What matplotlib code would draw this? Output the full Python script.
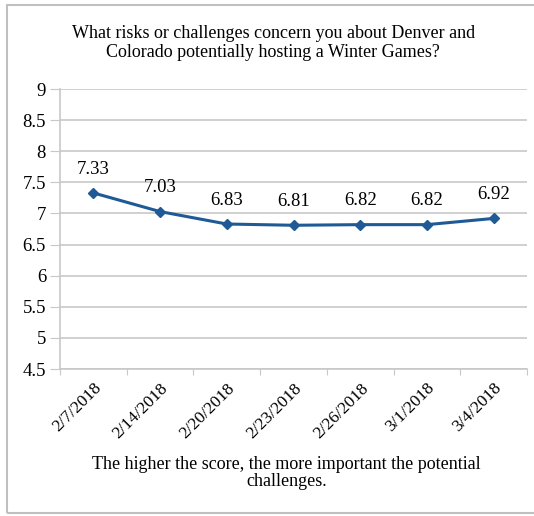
import matplotlib.pyplot as plt
from matplotlib.patches import Rectangle

dates = ['2/7/2018', '2/14/2018', '2/20/2018', '2/23/2018', '2/26/2018', '3/1/2018', '3/4/2018']
scores = [7.33, 7.03, 6.83, 6.81, 6.82, 6.82, 6.92]
yticks = [4.5, 5, 5.5, 6, 6.5, 7, 7.5, 8, 8.5, 9]

plt.rcParams['font.family'] = ['Liberation Serif', 'DejaVu Serif']
grid_col = '#c8c8c8'
line_col = '#1f5a96'

fig = plt.figure(figsize=(5.34, 5.16), dpi=100)
ax = fig.add_axes([60 / 534, 1 - 369 / 516, 467 / 534, 280 / 516])

x = list(range(len(dates)))
ax.plot(x, scores, color=line_col, lw=2.2, marker='D', ms=5, zorder=3)
for xi, v in zip(x, scores):
    ax.annotate('%.2f' % v, (xi, v), xytext=(0, 11), textcoords='offset points',
                ha='center', va='bottom', fontsize=13.5)

ax.set_xlim(-0.5, len(dates) - 0.5)
ax.set_ylim(4.5, 9)
ax.set_yticks(yticks)
ax.set_yticklabels(['%g' % t for t in yticks], fontsize=13.5)
ax.grid(axis='y', color=grid_col, lw=1.2)
ax.set_axisbelow(True)

ax.set_xticks([i - 0.5 for i in range(len(dates) + 1)])
ax.set_xticklabels([])
ax.set_xticks(x, minor=True)
ax.set_xticklabels(dates, minor=True, rotation=45, ha='right', rotation_mode='anchor', fontsize=12.5)
ax.tick_params(axis='x', which='minor', length=0, pad=8)
ax.tick_params(axis='x', which='major', length=4, color=grid_col)
ax.tick_params(axis='y', length=7, color=grid_col, pad=3)

for s in ['top', 'right']:
    ax.spines[s].set_visible(False)
for s in ['left', 'bottom']:
    ax.spines[s].set_color(grid_col)
    ax.spines[s].set_linewidth(1.2)

fig.text(0.512, 1 - 43 / 516, 'What risks or challenges concern you about Denver and\n'
         'Colorado potentially hosting a Winter Games?',
         ha='center', va='center', fontsize=13, linespacing=1.15)
fig.text(0.537, 1 - 473 / 516, 'The higher the score, the more important the potential\n'
         'challenges.', ha='center', va='center', fontsize=13, linespacing=1.0)

fig.patches.append(Rectangle((7 / 534, 3 / 516), 540 / 534, 508 / 516, transform=fig.transFigure,
                             fill=False, edgecolor='#c0c0c0', lw=1.5))

fig.savefig('out.png', dpi=100)
